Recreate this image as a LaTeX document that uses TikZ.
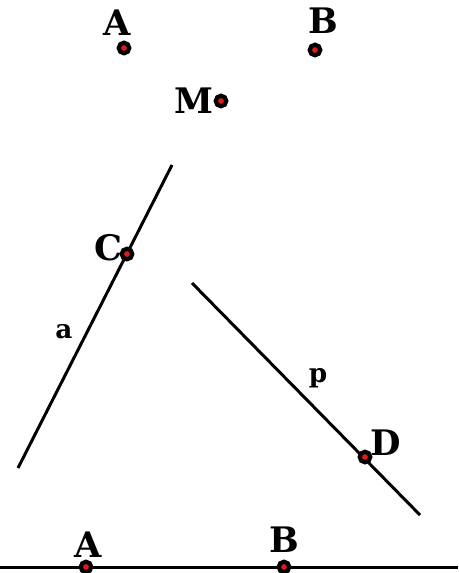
\documentclass[tikz,border=0pt]{standalone}
\usepackage{fontspec}
\setmainfont{DejaVu Serif}
\usepackage{tikz}
\usetikzlibrary{positioning}
\definecolor{ptRed}{RGB}{225,25,25}
\tikzset{
	pt/.style={
		circle,
		fill=ptRed,
		draw=black,
		line width=2.4pt,
		inner sep=0pt,
		minimum size=6pt
	},
	lbl/.style={
		inner sep=1pt,
		font=\fontsize{20}{24}\selectfont\bfseries
	},
	slbl/.style={
		inner sep=1pt,
		font=\fontsize{15}{18}\selectfont\bfseries
	},
	ln/.style={line width=1.7pt, black}
}

\begin{document}
\begin{tikzpicture}[x=0.02cm, y=-0.02cm]
		\useasboundingbox (0,0) rectangle (458,573);
		% line a and line p
		\coordinate (a1) at (172,165);
		\coordinate (a2) at (18,468);
		\coordinate (p1) at (192,283);
		\coordinate (p2) at (420,515);
		\coordinate (l1) at (0,567);
		\coordinate (l2) at (458,567);
		\draw[ln] (a1) -- (a2);
		\draw[ln] (p1) -- (p2);
		\draw[ln] (l1) -- (l2);
		% points
		\node[pt] (A) at (124,48) {};
		\node[pt] (B) at (315,50) {};
		\node[pt] (M) at (221,101) {};
		\node[pt] (C) at (127,254) {};
		\node[pt] (D) at (365,457) {};
		\node[pt] (A2) at (86,567) {};
		\node[pt] (B2) at (284,567) {};
		% labels
		\node[lbl] (labA) at (117,23) {A};
		\node[lbl] (labB) at (323,21) {B};
		\node[lbl, left=-1pt of M] (labM) {M};
		\node[lbl] (labC) at (108,248) {C};
		\node[slbl] (laba) at (64,332) {a};
		\node[slbl] (labp) at (318,378) {p};
		\node[lbl] (labD) at (386,443) {D};
		\node[lbl] (labA2) at (88,545) {A};
		\node[lbl] (labB2) at (284,540) {B};
	\end{tikzpicture}
\end{document}
